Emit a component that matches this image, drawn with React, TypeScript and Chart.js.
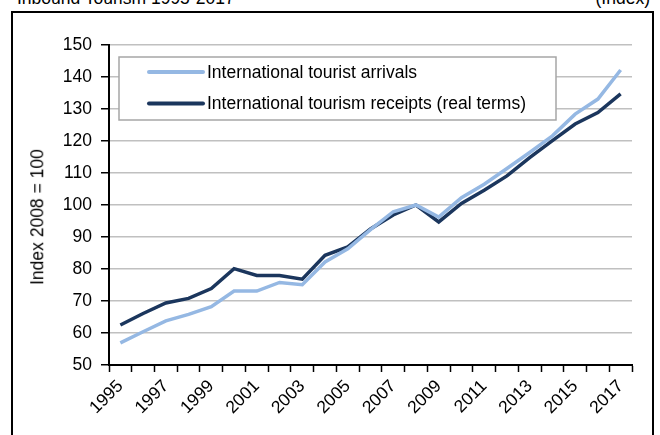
import React, { useEffect, useRef } from "react";
import { Chart, registerables } from "chart.js";

Chart.register(...registerables);

const years = [
  "1995", "1996", "1997", "1998", "1999", "2000", "2001", "2002", "2003", "2004", "2005", "2006",
  "2007", "2008", "2009", "2010", "2011", "2012", "2013", "2014", "2015", "2016", "2017",
];
const arrivals = [
  56.9, 60.4, 63.8, 65.8, 68.2, 73.1, 73.1, 75.8, 75.1, 82.2, 86.3, 92.3,
  97.9, 100, 96.2, 102.3, 106.5, 111.4, 116.4, 121.6, 128.4, 133.1, 142.2,
];
const receipts = [
  62.5, 66.1, 69.4, 70.8, 73.9, 80.1, 78.0, 78.0, 76.8, 84.3, 86.9, 92.5,
  96.9, 100, 94.7, 100.5, 104.6, 109.1, 114.8, 120.1, 125.3, 128.9, 134.7,
];
const seriesLabels = ["International tourist arrivals", "International tourism receipts (real terms)"];
const yMin = 50;
const yMax = 150;
const yStep = 10;

const FONT = '"Liberation Sans", Arial, sans-serif';
const FONT_SIZE = 17.5;

const boxLegend = {
  id: "boxLegend",
  afterDatasetsDraw(chart: any) {
    const { ctx, chartArea } = chart;
    const x0 = chartArea.left + 10;
    const y0 = chartArea.top + 12;
    const w = 437;
    const h = 63;
    ctx.save();
    ctx.fillStyle = "#ffffff";
    ctx.fillRect(x0, y0, w, h);
    ctx.strokeStyle = "#a6a6a6";
    ctx.lineWidth = 1.5;
    ctx.strokeRect(x0, y0, w, h);
    chart.data.datasets.forEach((ds: any, i: number) => {
      const cy = y0 + 15 + i * 31.6;
      ctx.strokeStyle = ds.borderColor;
      ctx.lineWidth = 4;
      ctx.lineCap = "round";
      ctx.beginPath();
      ctx.moveTo(x0 + 30, cy);
      ctx.lineTo(x0 + 84, cy);
      ctx.stroke();
      ctx.fillStyle = "#000";
      ctx.font = `${FONT_SIZE}px ${FONT}`;
      ctx.textBaseline = "middle";
      ctx.textAlign = "left";
      ctx.fillText(ds.label, x0 + 88, cy + 1);
    });
    ctx.restore();
  },
};

export default function App() {
  const ref = useRef<HTMLCanvasElement>(null);
  useEffect(() => {
    const chart = new Chart(ref.current as HTMLCanvasElement, {
      type: "line",
      data: {
        labels: years,
        datasets: [
          {
            label: seriesLabels[0],
            data: arrivals,
            borderColor: "#95B8E3",
            backgroundColor: "#95B8E3",
            borderWidth: 3.5,
            pointRadius: 0,
            tension: 0,
          },
          {
            label: seriesLabels[1],
            data: receipts,
            borderColor: "#1B365D",
            backgroundColor: "#1B365D",
            borderWidth: 3.5,
            pointRadius: 0,
            tension: 0,
          },
        ],
      },
      options: {
        responsive: false,
        animation: false,
        layout: { padding: { left: 0, top: 45, right: 28, bottom: 0 } },
        plugins: { legend: { display: false }, tooltip: { enabled: false } },
        scales: {
          x: {
            type: "category",
            offset: true,
            grid: {
              offset: true,
              drawOnChartArea: false,
              drawTicks: true,
              tickLength: 7,
              tickColor: "#000",
              tickWidth: 1.5,
            },
            border: { color: "#000", width: 2 },
            ticks: {
              autoSkip: false,
              maxRotation: 45,
              minRotation: 45,
              padding: 4,
              color: "#000",
              font: { family: FONT, size: FONT_SIZE },
              callback: (_v: any, i: number) => (i % 2 === 0 ? years[i] : ""),
            },
            afterFit: (s: any) => {
              s.height = 70;
            },
          },
          y: {
            min: yMin,
            max: yMax,
            ticks: {
              stepSize: yStep,
              padding: 9,
              color: "#000",
              font: { family: FONT, size: FONT_SIZE },
            },
            grid: {
              color: "#c0c0c0",
              lineWidth: 1.5,
              tickColor: "#000",
              tickLength: 8,
              tickWidth: 1.5,
            },
            border: { color: "#000", width: 2 },
            afterFit: (s: any) => {
              s.width = 109;
            },
          },
        },
      },
      plugins: [boxLegend],
    } as any);
    return () => chart.destroy();
  }, []);

  const textStyle: React.CSSProperties = {
    position: "absolute",
    font: `${FONT_SIZE}px ${FONT}`,
    lineHeight: `${FONT_SIZE}px`,
    whiteSpace: "nowrap",
    color: "#000",
  };

  return (
    <div
      style={{
        position: "fixed",
        left: 0,
        top: 0,
        width: 660,
        height: 435,
        overflow: "hidden",
        background: "#fff",
      }}
    >
      <div style={{ ...textStyle, left: 17, top: -10 }}>Inbound Tourism 1995-2017</div>
      <div style={{ ...textStyle, right: 10, top: -10 }}>(Index)</div>
      <div
        style={{
          position: "absolute",
          left: 11,
          top: 11,
          width: 643,
          height: 500,
          border: "2px solid #000",
          boxSizing: "border-box",
        }}
      />
      <canvas ref={ref} width={660} height={435} style={{ position: "absolute", left: 0, top: 0 }} />
      <div
        style={{
          ...textStyle,
          left: 38,
          top: 216.5,
          transform: "translate(-50%, -50%) rotate(-90deg)",
        }}
      >
        Index 2008 = 100
      </div>
    </div>
  );
}
